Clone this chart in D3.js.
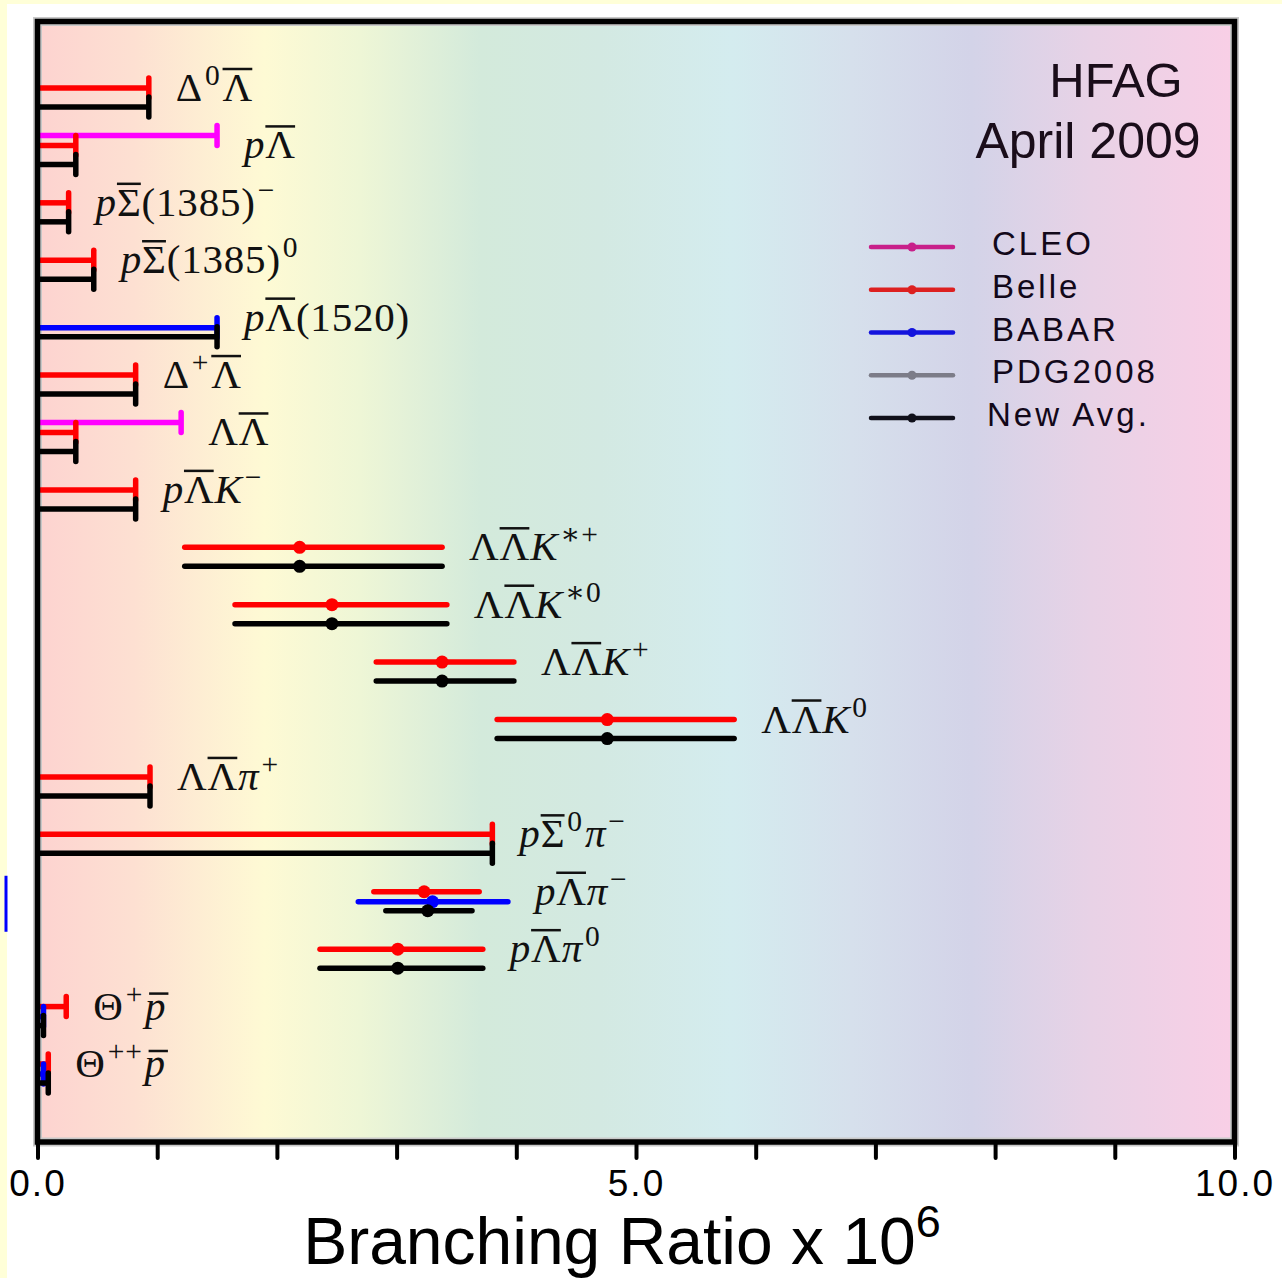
<!DOCTYPE html>
<html>
<head>
<meta charset="utf-8">
<script src="https://cdn.jsdelivr.net/npm/d3@7"></script>
<style>
  body { margin: 0; background: #ffffd8; }
  svg { display: block; }
</style>
</head>
<body>
<div id="chart"></div>
<script>
// Baryonic B decays, HFAG April 2009 style plot (D3 v7)

const width = 1282;
const height = 1278;

// decay rows, top to bottom, with label markup
const decays = [
  { key: 'D0Lb',    parts: [{ t: 'Δ' }, { t: '0', sup: 1 }, { t: 'Λ', bar: 1 }] },
  { key: 'pLb',     parts: [{ t: 'p', it: 1 }, { t: 'Λ', bar: 1 }] },
  { key: 'pS1385m', parts: [{ t: 'p', it: 1 }, { t: 'Σ', bar: 1 }, { t: '(1385)' }, { t: '−', sup: 1 }] },
  { key: 'pS1385z', parts: [{ t: 'p', it: 1 }, { t: 'Σ', bar: 1 }, { t: '(1385)' }, { t: '0', sup: 1 }] },
  { key: 'pL1520',  parts: [{ t: 'p', it: 1 }, { t: 'Λ', bar: 1 }, { t: '(1520)' }] },
  { key: 'DpLb',    parts: [{ t: 'Δ' }, { t: '+', sup: 1 }, { t: 'Λ', bar: 1 }] },
  { key: 'LLb',     parts: [{ t: 'Λ' }, { t: 'Λ', bar: 1 }] },
  { key: 'pLbKm',   parts: [{ t: 'p', it: 1 }, { t: 'Λ', bar: 1 }, { t: 'K', it: 1 }, { t: '−', sup: 1 }] },
  { key: 'LLKsp',   parts: [{ t: 'Λ' }, { t: 'Λ', bar: 1 }, { t: 'K', it: 1 }, { t: '∗+', sup: 1 }] },
  { key: 'LLKs0',   parts: [{ t: 'Λ' }, { t: 'Λ', bar: 1 }, { t: 'K', it: 1 }, { t: '∗0', sup: 1 }] },
  { key: 'LLKp',    parts: [{ t: 'Λ' }, { t: 'Λ', bar: 1 }, { t: 'K', it: 1 }, { t: '+', sup: 1 }] },
  { key: 'LLK0',    parts: [{ t: 'Λ' }, { t: 'Λ', bar: 1 }, { t: 'K', it: 1 }, { t: '0', sup: 1 }] },
  { key: 'LLpip',   parts: [{ t: 'Λ' }, { t: 'Λ', bar: 1 }, { t: 'π', it: 1 }, { t: '+', sup: 1 }] },
  { key: 'pS0pim',  parts: [{ t: 'p', it: 1 }, { t: 'Σ', bar: 1 }, { t: '0', sup: 1 }, { t: 'π', it: 1 }, { t: '−', sup: 1 }] },
  { key: 'pLpim',   parts: [{ t: 'p', it: 1 }, { t: 'Λ', bar: 1 }, { t: 'π', it: 1 }, { t: '−', sup: 1 }] },
  { key: 'pLpi0',   parts: [{ t: 'p', it: 1 }, { t: 'Λ', bar: 1 }, { t: 'π', it: 1 }, { t: '0', sup: 1 }] },
  { key: 'Thp',     parts: [{ t: 'Θ' }, { t: '+', sup: 1 }, { t: 'p', it: 1, bar: 1 }] },
  { key: 'Thpp',    parts: [{ t: 'Θ' }, { t: '++', sup: 1 }, { t: 'p', it: 1, bar: 1 }] }
];

// [decay, value, low, high]; no low/high means a 90% CL upper limit
const cleo = [
  ['pLb', 1.5],
  ['LLb', 1.2]
];
const belle = [
  ['D0Lb', 0.93], ['pLb', 0.32], ['pS1385m', 0.26], ['pS1385z', 0.47],
  ['DpLb', 0.82], ['LLb', 0.32], ['pLbKm', 0.82],
  ['LLKsp', 2.19, 1.23, 3.38], ['LLKs0', 2.46, 1.65, 3.42],
  ['LLKp', 3.38, 2.83, 3.98], ['LLK0', 4.76, 3.84, 5.82],
  ['LLpip', 0.94], ['pS0pim', 3.8],
  ['pLpim', 3.23, 2.81, 3.69], ['pLpi0', 3.01, 2.36, 3.72],
  ['Thp', 0.24], ['Thpp', 0.09]
];
const babar = [
  ['pL1520', 1.5],
  ['pLpim', 3.30, 2.68, 3.93],
  ['Thp', 0.05], ['Thpp', 0.05]
];
const newAvg = [
  ['D0Lb', 0.93], ['pLb', 0.32], ['pS1385m', 0.26], ['pS1385z', 0.47],
  ['pL1520', 1.5], ['DpLb', 0.82], ['LLb', 0.32], ['pLbKm', 0.82],
  ['LLKsp', 2.19, 1.23, 3.38], ['LLKs0', 2.46, 1.65, 3.42],
  ['LLKp', 3.38, 2.83, 3.98], ['LLK0', 4.76, 3.84, 5.82],
  ['LLpip', 0.94], ['pS0pim', 3.8],
  ['pLpim', 3.26, 2.91, 3.63], ['pLpi0', 3.01, 2.36, 3.72],
  ['Thp', 0.05], ['Thpp', 0.09]
];

const tickLabels = [0, 5, 10];
const legendNames = ['CLEO', 'Belle', 'BABAR', 'PDG2008', 'New Avg.'];
const legendColors = ['#c8208a', '#dd2020', '#1414dd', '#7c7c88', '#10101a'];

const experiments = [
  { rows: cleo, color: '#ff00ff', dy: -10 },
  { rows: belle, color: '#ff0000', dy: 0 },
  { rows: babar, color: '#0000ff', dy: 10 },
  { rows: newAvg, color: '#000000', dy: 19 }
];

const frame = { left: 37.5, right: 1234.5, top: 21.5, bottom: 1142 };

const x = d3.scaleLinear().domain([0, 10]).range([frame.left, frame.right]);
const y = d3.scalePoint().domain(decays.map(d => d.key)).range([88, 1064]);

const svg = d3.select('#chart').append('svg')
  .attr('width', width)
  .attr('height', height);

svg.append('rect')
  .attr('x', 7).attr('y', 4)
  .attr('width', width - 7).attr('height', height - 4)
  .attr('fill', '#ffffff');

// background gradient
const defs = svg.append('defs');
const grad = defs.append('linearGradient').attr('id', 'bg')
  .attr('x1', '0%').attr('x2', '100%').attr('y1', '0%').attr('y2', '0%');
[
  [0, '#fdd3d0'], [0.08, '#fde0d2'], [0.19, '#fefad4'], [0.27, '#eef6d6'],
  [0.37, '#d3eadb'], [0.47, '#d3e9e2'], [0.58, '#d4ecef'], [0.68, '#d6e0ec'],
  [0.78, '#d3d3e8'], [0.88, '#e8d2e6'], [1, '#f9cfe6']
].forEach(s => grad.append('stop').attr('offset', s[0]).attr('stop-color', s[1]));

svg.append('rect')
  .attr('x', frame.left).attr('y', frame.top)
  .attr('width', frame.right - frame.left).attr('height', frame.bottom - frame.top)
  .attr('fill', 'url(#bg)')
  .attr('stroke', '#c8c8c8').attr('stroke-width', 9);

// stray blue mark left of the frame
svg.append('line')
  .attr('x1', 6).attr('x2', 6)
  .attr('y1', y('pLpim') - 16).attr('y2', y('pLpim') + 40)
  .attr('stroke', '#0000ff').attr('stroke-width', 3);

const marks = svg.append('g');

experiments.forEach(exp => {
  exp.rows.forEach(r => {
    const [key, val, lo, hi] = r;
    const yy = y(key) + exp.dy;
    const g = marks.append('g');
    if (lo === undefined) {
      g.append('line')
        .attr('x1', x(0)).attr('x2', x(val))
        .attr('y1', yy).attr('y2', yy)
        .attr('stroke', exp.color).attr('stroke-width', 5.5);
      g.append('line')
        .attr('x1', x(val)).attr('x2', x(val))
        .attr('y1', yy - 10).attr('y2', yy + 10)
        .attr('stroke', exp.color).attr('stroke-width', 5.5)
        .attr('stroke-linecap', 'round');
    } else {
      g.append('line')
        .attr('x1', x(lo)).attr('x2', x(hi))
        .attr('y1', yy).attr('y2', yy)
        .attr('stroke', exp.color).attr('stroke-width', 5.5)
        .attr('stroke-linecap', 'round');
      g.append('circle')
        .attr('cx', x(val)).attr('cy', yy).attr('r', 6.5)
        .attr('fill', exp.color);
    }
  });
});

// decay labels
const labelFont = 41;
decays.forEach(d => {
  let maxVal = 0;
  experiments.forEach(exp => exp.rows.forEach(r => {
    if (r[0] === d.key) maxVal = Math.max(maxVal, r[3] !== undefined ? r[3] : r[1]);
  }));
  const text = svg.append('text')
    .attr('x', x(maxVal) + 27)
    .attr('y', y(d.key) + 13)
    .attr('font-family', '"Liberation Serif", "DejaVu Serif", serif')
    .attr('font-size', labelFont)
    .attr('letter-spacing', 0.8)
    .attr('fill', '#111');
  let raised = false;
  const bars = [];
  let idx = 0;
  d.parts.forEach(p => {
    const ts = text.append('tspan').text(p.t);
    if (p.it) ts.attr('font-style', 'italic');
    if (p.sup) {
      ts.attr('font-size', labelFont * 0.72).attr('dx', 2);
      if (!raised) ts.attr('dy', -16);
      raised = true;
    } else if (raised) {
      ts.attr('dy', 16).attr('dx', 2);
      raised = false;
    }
    if (p.bar) bars.push({ from: idx, to: idx + p.t.length - 1, low: p.t === 'p' });
    idx += p.t.length;
  });
  const node = text.node();
  bars.forEach(b => {
    const s = node.getStartPositionOfChar(b.from);
    const e = node.getEndPositionOfChar(b.to);
    const by = s.y - (b.low ? 26 : 32);
    svg.append('line')
      .attr('x1', s.x + (b.low ? 4 : 0)).attr('x2', e.x + (b.low ? 2 : -0.8))
      .attr('y1', by).attr('y2', by)
      .attr('stroke', '#111').attr('stroke-width', 2.5);
  });
});

// frame
svg.append('rect')
  .attr('x', frame.left).attr('y', frame.top)
  .attr('width', frame.right - frame.left).attr('height', frame.bottom - frame.top)
  .attr('fill', 'none')
  .attr('stroke', '#000').attr('stroke-width', 5.5);

// x axis
const axis = d3.axisBottom(x)
  .tickValues(d3.range(0, 11))
  .tickSize(16)
  .tickFormat(d => tickLabels.includes(d) ? d3.format('.1f')(d) : '');

const axisG = svg.append('g')
  .attr('transform', `translate(0, ${frame.bottom})`)
  .call(axis);
axisG.select('.domain').remove();
axisG.selectAll('.tick line')
  .attr('stroke', '#000').attr('stroke-width', 4).attr('stroke-linecap', 'round');
axisG.selectAll('.tick text')
  .attr('y', 54).attr('dy', 0)
  .attr('font-family', '"Liberation Sans", Arial, sans-serif')
  .attr('font-size', 37)
  .attr('letter-spacing', 2)
  .attr('fill', '#000');

const title = svg.append('text')
  .attr('x', 622).attr('y', 1264)
  .attr('text-anchor', 'middle')
  .attr('font-family', '"Liberation Sans", Arial, sans-serif')
  .attr('font-size', 66)
  .attr('fill', '#000');
title.append('tspan').text('Branching Ratio x 10');
title.append('tspan').text('6').attr('font-size', 45).attr('dy', -27);

// HFAG stamp
svg.append('text')
  .attr('x', 1116).attr('y', 97)
  .attr('text-anchor', 'middle')
  .attr('font-family', '"Liberation Sans", Arial, sans-serif')
  .attr('font-size', 49).attr('fill', '#1a0d1a')
  .text('HFAG');
svg.append('text')
  .attr('x', 1088).attr('y', 158)
  .attr('text-anchor', 'middle')
  .attr('font-family', '"Liberation Sans", Arial, sans-serif')
  .attr('font-size', 50).attr('fill', '#1a0d1a')
  .text('April 2009');

// legend
const legendY = d3.scalePoint().domain(legendNames).range([247, 418]);
const legend = svg.append('g');
legendNames.forEach((name, i) => {
  const ly = legendY(name);
  legend.append('line')
    .attr('x1', 871).attr('x2', 953)
    .attr('y1', ly).attr('y2', ly)
    .attr('stroke', legendColors[i]).attr('stroke-width', 4.5)
    .attr('stroke-linecap', 'round');
  legend.append('circle')
    .attr('cx', 912).attr('cy', ly).attr('r', 4.5)
    .attr('fill', legendColors[i]);
  legend.append('text')
    .attr('x', name === 'New Avg.' ? 987 : 992)
    .attr('y', ly + 8)
    .attr('font-family', '"Liberation Sans", Arial, sans-serif')
    .attr('font-size', 33)
    .attr('letter-spacing', 3)
    .attr('fill', '#12081a')
    .text(name);
});
</script>
</body>
</html>
